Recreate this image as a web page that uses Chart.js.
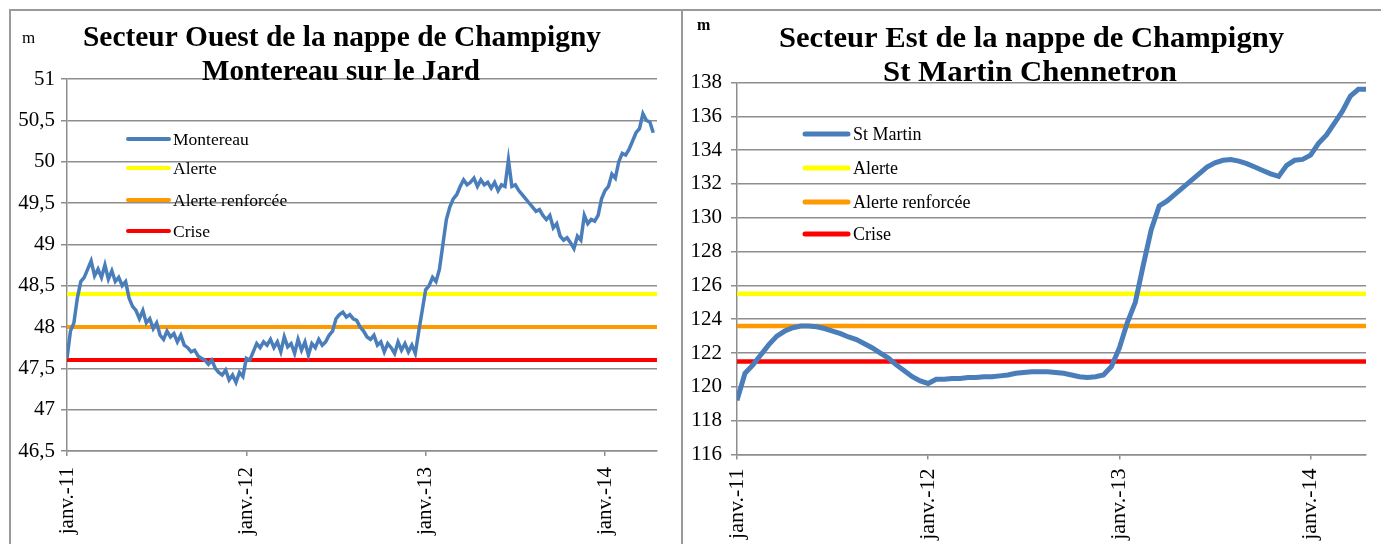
<!DOCTYPE html>
<html>
<head>
<meta charset="utf-8">
<script src="https://cdn.jsdelivr.net/npm/chart.js@4.4.1/dist/chart.umd.min.js"></script>
<style>
  html, body { margin: 0; background: #fff; overflow: hidden; }
  #frameTop { position: absolute; left: 9px; top: 9px; width: 1372px; height: 2px; background: #9a9a9a; }
  #frameLeft { position: absolute; left: 9px; top: 9px; width: 2px; height: 535px; background: #9a9a9a; }
  #divider { position: absolute; left: 681px; top: 9px; width: 2px; height: 535px; background: #9a9a9a; }
  canvas { position: absolute; }
</style>
</head>
<body>
<div id="frameTop"></div>
<div id="frameLeft"></div>
<div id="divider"></div>
<canvas id="ouest" width="670" height="533" style="left:11px;top:11px"></canvas>
<canvas id="est" width="697" height="533" style="left:684px;top:11px"></canvas>
<script>
// x axis: years, labelled "janv.-YY"
const YEAR_TICKS = [2011, 2012, 2013, 2014];
const X_MIN = 2011;
const X_MAX = 2014.29;

// Montereau sur le Jard, weekly readings from janv. 2011 (m)
const MONTEREAU_START = 2011;
const MONTEREAU_STEP = 1 / 52;
const montereau = [
  47.62, 47.95, 48.05, 48.35, 48.55, 48.6, 48.7, 48.8, 48.62, 48.7,
  48.6, 48.75, 48.58, 48.68, 48.55, 48.6, 48.5, 48.55, 48.35, 48.25,
  48.2, 48.1, 48.2, 48.05, 48.1, 47.98, 48.05, 47.9, 47.85, 47.95,
  47.88, 47.92, 47.82, 47.9, 47.78, 47.75, 47.7, 47.72, 47.65, 47.62,
  47.6, 47.55, 47.6, 47.5, 47.45, 47.42, 47.48, 47.36, 47.42, 47.33,
  47.45, 47.4, 47.62, 47.6, 47.7, 47.8, 47.75, 47.82, 47.78, 47.85,
  47.75, 47.82, 47.7, 47.88, 47.76, 47.8, 47.68, 47.85, 47.72, 47.82,
  47.66, 47.8, 47.75, 47.85, 47.78, 47.82, 47.9, 47.95, 48.1, 48.15,
  48.18, 48.12, 48.15, 48.1, 48.08, 48.0, 47.95, 47.88, 47.85, 47.9,
  47.78, 47.82, 47.7, 47.8, 47.75, 47.68, 47.82, 47.72, 47.8, 47.7,
  47.78, 47.68, 47.95, 48.2, 48.45, 48.5, 48.6, 48.55, 48.7, 49.0,
  49.3, 49.45, 49.55, 49.6, 49.7, 49.78, 49.72, 49.75, 49.8, 49.7,
  49.78, 49.72, 49.75, 49.68, 49.75, 49.65, 49.72, 49.7, 50.02, 49.7,
  49.72, 49.65, 49.6, 49.55, 49.5, 49.45, 49.4, 49.42, 49.35, 49.3,
  49.35, 49.2, 49.25, 49.1, 49.05, 49.08, 49.02, 48.95, 49.1, 49.05,
  49.35, 49.25, 49.3, 49.28, 49.35, 49.55, 49.65, 49.7, 49.85, 49.8,
  50.0, 50.1, 50.08, 50.15, 50.25, 50.35, 50.4, 50.58, 50.5, 50.48,
  50.35
];
const OUEST_THRESHOLDS = [48.4, 48.0, 47.6];   // Alerte, Alerte renforcée, Crise

// St Martin Chennetron, twice-monthly readings from janv. 2011 (m)
const STMARTIN_START = 2011;
const STMARTIN_STEP = 1 / 24;
const stMartin = [
  119.2, 120.8, 121.3, 121.9, 122.5, 123.0, 123.3, 123.5, 123.6, 123.6,
  123.55, 123.45, 123.3, 123.15, 122.95, 122.8, 122.55, 122.3, 122.0, 121.7,
  121.3, 120.95, 120.6, 120.35, 120.2, 120.45, 120.45, 120.5, 120.5, 120.55,
  120.55, 120.6, 120.6, 120.65, 120.7, 120.8, 120.85, 120.9, 120.9, 120.9,
  120.85, 120.8, 120.7, 120.6, 120.55, 120.6, 120.7, 121.2, 122.3, 123.8,
  125.0, 127.2, 129.3, 130.7, 131.0, 131.4, 131.8, 132.2, 132.6, 133.0,
  133.25, 133.4, 133.45, 133.35, 133.2, 133.0, 132.8, 132.6, 132.45, 133.1,
  133.4, 133.45, 133.7, 134.4, 134.9, 135.6, 136.3, 137.2, 137.6, 137.6
];
const EST_THRESHOLDS = [125.5, 123.6, 121.5];

const THRESHOLD_LABELS = ['Alerte', 'Alerte renforcée', 'Crise'];
const THRESHOLD_COLORS = ['#ffff00', '#ff9900', '#ff0000'];
const SERIES_BLUE = '#4a7ebb';
const GRID = '#8e8e8e';
const SERIF = '"Liberation Serif", "Times New Roman", serif';

function toPoints(values, start, step) {
  return values.map((v, i) => ({ x: start + i * step, y: v }));
}

function thresholdDatasets(levels, width) {
  return levels.map((lvl, i) => ({
    label: THRESHOLD_LABELS[i],
    data: [{ x: X_MIN, y: lvl }, { x: X_MAX, y: lvl }],
    borderColor: THRESHOLD_COLORS[i],
    backgroundColor: THRESHOLD_COLORS[i],
    borderWidth: width,
    pointRadius: 0
  }));
}

// draws the title lines, unit and the legend inside the plot
const overlayPlugin = {
  id: 'overlay',
  afterDraw(chart, args, opts) {
    const ctx = chart.ctx;
    ctx.save();
    ctx.fillStyle = '#000';
    ctx.textBaseline = 'alphabetic';
    (opts.texts || []).forEach(t => {
      ctx.font = t.font;
      if (t.width) {
        const w = ctx.measureText(t.text).width;
        ctx.save();
        ctx.translate(t.x, t.y);
        ctx.scale(t.width / w, 1);
        ctx.textAlign = 'center';
        ctx.fillText(t.text, 0, 0);
        ctx.restore();
      } else {
        ctx.textAlign = 'left';
        ctx.fillText(t.text, t.x, t.y);
      }
    });
    const lg = opts.legend;
    if (lg) {
      ctx.textBaseline = 'middle';
      ctx.textAlign = 'left';
      ctx.font = lg.font;
      chart.data.datasets.forEach((ds, i) => {
        const y = lg.ys[i];
        ctx.strokeStyle = ds.borderColor;
        ctx.lineWidth = lg.lineWidth;
        ctx.lineCap = 'round';
        ctx.beginPath();
        ctx.moveTo(lg.x1, y);
        ctx.lineTo(lg.x2, y);
        ctx.stroke();
        ctx.fillText(ds.label, lg.textX, y + 1);
      });
    }
    ctx.restore();
  }
};

function makeChart(id, cfg) {
  const ctx = document.getElementById(id).getContext('2d');
  return new Chart(ctx, {
    type: 'line',
    data: { datasets: cfg.datasets },
    options: {
      responsive: false,
      animation: false,
      devicePixelRatio: 1,
      layout: { padding: { left: 0, right: cfg.padRight, top: cfg.padTop, bottom: 0 } },
      elements: { line: { tension: 0 }, point: { radius: 0 } },
      scales: {
        x: {
          type: 'linear',
          min: X_MIN,
          max: X_MAX,
          afterFit: s => { s.height = cfg.xHeight; },
          afterBuildTicks: s => { s.ticks = YEAR_TICKS.map(v => ({ value: v })); },
          grid: { drawOnChartArea: false, drawTicks: true, tickLength: 5, color: GRID, lineWidth: 1.5 },
          border: { color: GRID, width: 1.5 },
          ticks: {
            autoSkip: false,
            minRotation: 90,
            maxRotation: 90,
            padding: cfg.xPad,
            color: '#000',
            font: { family: SERIF, size: cfg.xFont },
            callback: v => 'janv.-' + String(v).slice(2)
          }
        },
        y: {
          min: cfg.yMin,
          max: cfg.yMax,
          afterFit: s => { s.width = cfg.yWidth; },
          grid: { color: GRID, lineWidth: 1.5, tickLength: 6 },
          border: { color: GRID, width: 1.5 },
          ticks: {
            stepSize: cfg.yStep,
            padding: cfg.yPad,
            color: '#000',
            font: { family: SERIF, size: cfg.yFont },
            callback: v => String(v).replace('.', ',')
          }
        }
      },
      plugins: {
        legend: { display: false },
        tooltip: { enabled: false },
        overlay: cfg.overlay
      }
    },
    plugins: [overlayPlugin]
  });
}

makeChart('ouest', {
  datasets: [{
    label: 'Montereau',
    data: toPoints(montereau, MONTEREAU_START, MONTEREAU_STEP),
    borderColor: SERIES_BLUE,
    borderWidth: 3.5
  }].concat(thresholdDatasets(OUEST_THRESHOLDS, 4)),
  yMin: 46.5, yMax: 51, yStep: 0.5,
  yWidth: 56, yPad: 6, yFont: 21, xFont: 21, xPad: 11,
  padRight: 24, padTop: 68, xHeight: 93,
  overlay: {
    texts: [
      { text: 'm', x: 11, y: 32, font: '17px ' + SERIF },
      { text: 'Secteur Ouest de la nappe de Champigny', x: 331, y: 35, width: 518, font: 'bold 30px ' + SERIF },
      { text: 'Montereau sur le Jard', x: 330, y: 69, width: 278, font: 'bold 30px ' + SERIF }
    ],
    legend: { x1: 117, x2: 158, textX: 162, ys: [128, 157, 189, 220], lineWidth: 4, font: '17.5px ' + SERIF }
  }
});

makeChart('est', {
  datasets: [{
    label: 'St Martin',
    data: toPoints(stMartin, STMARTIN_START, STMARTIN_STEP),
    borderColor: SERIES_BLUE,
    borderWidth: 5
  }].concat(thresholdDatasets(EST_THRESHOLDS, 4.5)),
  yMin: 116, yMax: 138, yStep: 2,
  yWidth: 53, yPad: 9, yFont: 21, xFont: 22, xPad: 9,
  padRight: 15, padTop: 71.5, xHeight: 89.5,
  overlay: {
    texts: [
      { text: 'm', x: 13, y: 19, font: 'bold 16px ' + SERIF },
      { text: 'Secteur Est de la nappe de Champigny', x: 347.5, y: 36, width: 505, font: 'bold 30px ' + SERIF },
      { text: 'St Martin Chennetron', x: 346, y: 70, width: 294, font: 'bold 30px ' + SERIF }
    ],
    legend: { x1: 121, x2: 164, textX: 169, ys: [123, 157, 191, 223], lineWidth: 5, font: '18px ' + SERIF }
  }
});
</script>
</body>
</html>
